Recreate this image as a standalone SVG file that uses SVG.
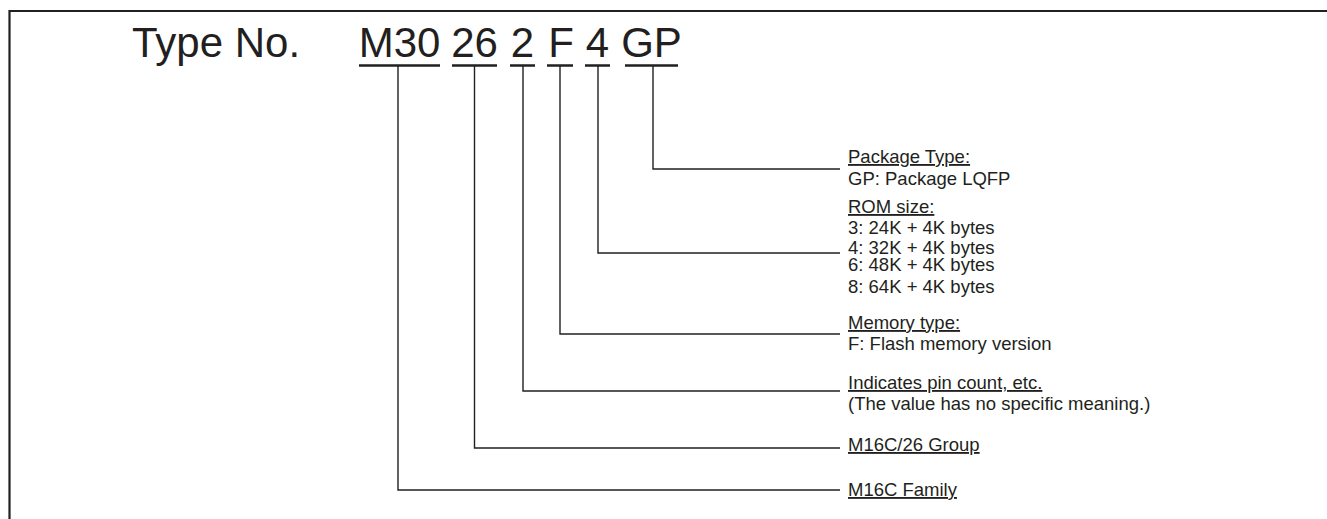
<svg xmlns="http://www.w3.org/2000/svg" width="1327" height="519" viewBox="0 0 1327 519">
<style>
.big{font-family:"Liberation Sans",Arial,sans-serif;font-size:42px;fill:#231f20}
.sm{font-family:"Liberation Sans",Arial,sans-serif;font-size:18.5px;fill:#231f20}
.u{text-decoration:underline}
.ln{fill:none;stroke:#231f20;stroke-width:1.4}
.ul{fill:none;stroke:#231f20;stroke-width:2.6}
</style>
<rect width="1327" height="519" fill="#fff"/>
<path d="M9.5,519 V11 H1327" fill="none" stroke="#231f20" stroke-width="2.2"/>
<g id="title">
<text class="big" x="132" y="57">Type No.</text>
</g>
<g id="code">
<text class="big" x="399.5" y="57" text-anchor="middle">M30</text>
<text class="big" x="474.5" y="57" text-anchor="middle">26</text>
<text class="big" x="522.5" y="57" text-anchor="middle">2</text>
<text class="big" x="561" y="57" text-anchor="middle">F</text>
<text class="big" x="597.5" y="57" text-anchor="middle">4</text>
<text class="big" x="651.5" y="57" text-anchor="middle">GP</text>
<path class="ul" d="M359,65.5H440 M452,65.5H497 M510,65.5H535 M547,65.5H573 M585,65.5H610 M625,65.5H678"/>
</g>
<g id="connectors">
<path class="ln" d="M653,65V169H840"/>
<path class="ln" d="M598,65V253H840"/>
<path class="ln" d="M560,65V334H840"/>
<path class="ln" d="M523,65V391H840"/>
<path class="ln" d="M474.5,65V448H840"/>
<path class="ln" d="M398,65V490H840"/>
</g>
<g id="package">
<text class="sm u" x="848" y="163">Package Type:</text>
<text class="sm" x="848" y="185">GP: Package LQFP</text>
</g>
<g id="rom">
<text class="sm u" x="848" y="213">ROM size:</text>
<text class="sm" x="848" y="234">3: 24K + 4K bytes</text>
<text class="sm" x="848" y="254">4: 32K + 4K bytes</text>
<text class="sm" x="848" y="271">6: 48K + 4K bytes</text>
<text class="sm" x="848" y="293">8: 64K + 4K bytes</text>
</g>
<g id="memory">
<text class="sm u" x="848" y="329">Memory type:</text>
<text class="sm" x="848" y="350">F: Flash memory version</text>
</g>
<g id="pins">
<text class="sm u" x="848" y="389">Indicates pin count, etc.</text>
<text class="sm" x="848" y="410">(The value has no specific meaning.)</text>
</g>
<g id="group">
<text class="sm u" x="848" y="451">M16C/26 Group</text>
</g>
<g id="family">
<text class="sm u" x="848" y="496">M16C Family</text>
</g>
</svg>
